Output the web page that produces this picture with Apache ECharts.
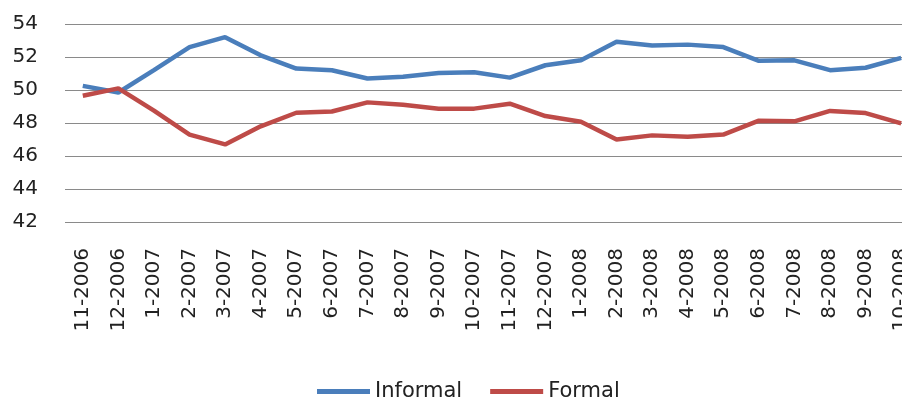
<!DOCTYPE html>
<html>
<head>
<meta charset="utf-8">
<script src="https://cdn.jsdelivr.net/npm/echarts@6/dist/echarts.min.js"></script>
<style>
  html, body { margin: 0; padding: 0; background: #fff; }
  #chart { width: 902px; height: 400px; }
</style>
</head>
<body>
<div id="chart"></div>
<script>
const months = [
  '11-2006', '12-2006', '1-2007', '2-2007', '3-2007', '4-2007', '5-2007', '6-2007',
  '7-2007', '8-2007', '9-2007', '10-2007', '11-2007', '12-2007', '1-2008', '2-2008',
  '3-2008', '4-2008', '5-2008', '6-2008', '7-2008', '8-2008', '9-2008', '10-2008'
]
const informal = [
  50.25, 49.85, 51.2, 52.6, 53.2, 52.1, 51.3, 51.2,
  50.7, 50.8, 51.03, 51.07, 50.75, 51.5, 51.8, 52.93,
  52.7, 52.75, 52.6, 51.77, 51.8, 51.2, 51.35, 51.95
]
const formal = [
  49.65, 50.1, 48.75, 47.3, 46.7, 47.8, 48.62, 48.7,
  49.25, 49.1, 48.87, 48.87, 49.17, 48.42, 48.08, 47.0,
  47.25, 47.17, 47.3, 48.14, 48.1, 48.73, 48.6, 47.98
]
const yTicks = { min: 42, max: 54, step: 2 }

const font = 'DejaVu Sans'
const chart = echarts.init(document.getElementById('chart'), null, { renderer: 'canvas' })

// plot area runs past the right edge, as in the source picture
chart.setOption({
  animation: false,
  backgroundColor: '#ffffff',
  grid: { left: 65, top: 24, width: 854, height: 198, containLabel: false, outerBoundsMode: 'none' },
  legend: {
    left: 312,
    top: 376,
    itemWidth: 53,
    itemHeight: 5,
    itemGap: 28,
    icon: 'rect',
    textStyle: { fontFamily: font, fontSize: 21, color: '#222' },
    data: ['Informal', 'Formal']
  },
  xAxis: {
    type: 'category',
    data: months,
    boundaryGap: true,
    axisLine: { show: false },
    axisTick: { show: false },
    axisLabel: {
      interval: 0,
      rotate: 90,
      margin: 26,
      fontFamily: font,
      fontSize: 20,
      color: '#222'
    }
  },
  yAxis: {
    type: 'value',
    min: yTicks.min,
    max: yTicks.max,
    interval: yTicks.step,
    axisLine: { show: false },
    axisTick: { show: false },
    axisLabel: { margin: 27, fontFamily: font, fontSize: 20, color: '#222' },
    splitLine: { lineStyle: { color: '#8a8a8a', width: 1.2 } }
  },
  series: [
    {
      name: 'Informal',
      type: 'line',
      data: informal,
      symbol: 'none',
      color: '#4A7EBB',
      lineStyle: { width: 4.5, color: '#4A7EBB' }
    },
    {
      name: 'Formal',
      type: 'line',
      data: formal,
      symbol: 'none',
      color: '#BE4B48',
      lineStyle: { width: 4.5, color: '#BE4B48' }
    }
  ]
})
</script>
</body>
</html>
